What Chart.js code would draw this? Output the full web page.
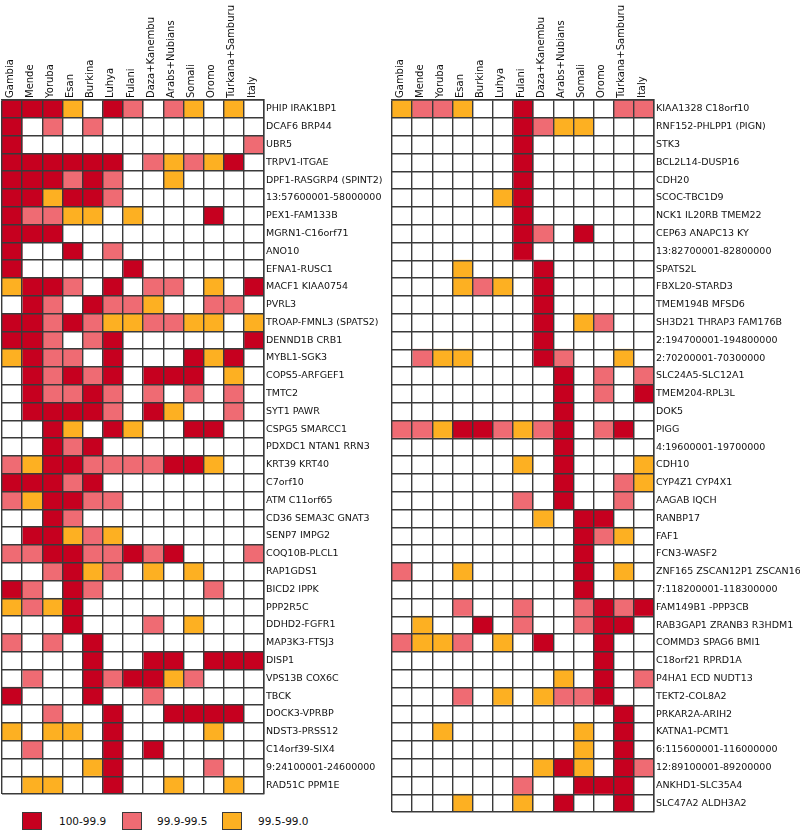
<!DOCTYPE html>
<html>
<head>
<meta charset="utf-8">
<script src="https://cdn.jsdelivr.net/npm/chart.js@4.4.0/dist/chart.umd.min.js"></script>
<style>
  body { margin:0; background:#fff; width:800px; height:832px; position:relative; overflow:hidden; font-family:"DejaVu Sans", sans-serif; }
  #c1 { position:absolute; left:0; top:0; }
  #c2 { position:absolute; left:390px; top:0; }
  .sw { position:absolute; top:812px; width:18px; height:16px; border:1px solid #3a3a3a; }
  .lt { position:absolute; top:814px; font-size:10.5px; color:#111; line-height:14px; white-space:nowrap; }
</style>
</head>
<body>
<canvas id="c1" width="390" height="796"></canvas>
<canvas id="c2" width="410" height="814"></canvas>
<div id="legend"></div>
<script>
// ---- data ----
const populations = ["Gambia","Mende","Yoruba","Esan","Burkina","Luhya","Fulani","Daza+Kanembu","Arabs+Nubians","Somali","Oromo","Turkana+Samburu","Italy"];

// level: 3 = 100-99.9, 2 = 99.9-99.5, 1 = 99.5-99.0, 0 = none
const leftGenes = ["PHIP IRAK1BP1","DCAF6 BRP44","UBR5","TRPV1-ITGAE","DPF1-RASGRP4 (SPINT2)","13:57600001-58000000","PEX1-FAM133B","MGRN1-C16orf71","ANO10","EFNA1-RUSC1","MACF1 KIAA0754","PVRL3","TROAP-FMNL3 (SPATS2)","DENND1B CRB1","MYBL1-SGK3","COPS5-ARFGEF1","TMTC2","SYT1 PAWR","CSPG5 SMARCC1","PDXDC1 NTAN1 RRN3","KRT39 KRT40","C7orf10","ATM C11orf65","CD36 SEMA3C GNAT3","SENP7 IMPG2","COQ10B-PLCL1","RAP1GDS1","BICD2 IPPK","PPP2R5C","DDHD2-FGFR1","MAP3K3-FTSJ3","DISP1","VPS13B COX6C","TBCK","DOCK3-VPRBP","NDST3-PRSS12","C14orf39-SIX4","9:24100001-24600000","RAD51C PPM1E"];
const leftLevels = [
  [3,3,3,1,0,3,2,0,2,1,0,1,0],
  [3,0,2,0,2,0,0,0,0,0,0,0,0],
  [3,0,0,0,0,0,0,0,0,0,0,0,2],
  [3,3,3,3,3,3,0,2,1,2,1,3,0],
  [3,3,3,2,3,2,0,0,1,0,0,0,0],
  [3,3,1,3,3,2,0,0,0,0,0,0,0],
  [3,2,2,1,1,0,1,0,0,0,3,0,0],
  [3,3,3,0,0,0,0,0,0,0,0,0,0],
  [3,0,0,3,0,2,0,0,0,0,0,0,0],
  [3,0,0,0,0,0,3,0,0,0,0,0,0],
  [1,3,3,2,0,3,0,2,2,0,1,0,3],
  [0,3,2,0,3,2,2,1,0,0,2,2,0],
  [3,3,2,3,2,1,1,2,2,1,1,0,1],
  [3,3,2,0,2,3,0,0,0,0,0,0,3],
  [1,3,2,2,0,3,0,0,0,3,1,3,0],
  [0,3,2,3,2,3,0,3,3,3,0,1,0],
  [0,3,2,2,3,2,0,2,0,2,0,2,0],
  [0,3,3,3,3,2,0,3,1,0,0,2,0],
  [0,0,3,1,0,3,1,0,0,3,3,0,0],
  [0,0,3,2,3,0,0,0,0,0,0,0,0],
  [2,1,3,3,2,2,2,2,3,3,1,0,0],
  [3,3,3,2,3,0,0,0,0,0,0,0,0],
  [2,1,3,3,2,2,0,0,0,0,0,0,0],
  [0,0,3,2,0,0,0,0,0,0,0,0,0],
  [0,3,3,1,2,1,0,0,0,0,0,0,0],
  [2,2,3,3,2,2,3,2,3,0,0,0,2],
  [0,0,2,3,1,2,0,1,0,1,0,0,0],
  [3,2,0,3,2,0,0,0,0,0,2,0,0],
  [1,2,1,3,0,0,0,0,0,0,0,0,0],
  [0,0,0,3,0,0,0,2,0,1,0,0,0],
  [2,0,2,0,3,0,0,0,0,0,0,0,0],
  [0,0,0,0,3,0,0,3,3,0,3,3,3],
  [0,2,0,0,3,2,3,3,1,2,0,0,0],
  [3,0,0,0,3,0,0,2,0,0,0,0,0],
  [0,0,2,0,0,3,0,0,3,3,3,3,0],
  [1,0,1,1,0,3,0,0,0,0,1,0,0],
  [0,2,0,0,0,3,0,3,0,0,0,0,0],
  [0,0,0,0,1,3,0,0,0,0,2,0,0],
  [0,1,1,0,0,3,0,0,1,0,0,1,0]
];

const rightGenes = ["KIAA1328 C18orf10","RNF152-PHLPP1 (PIGN)","STK3","BCL2L14-DUSP16","CDH20","SCOC-TBC1D9","NCK1 IL20RB TMEM22","CEP63 ANAPC13 KY","13:82700001-82800000","SPATS2L","FBXL20-STARD3","TMEM194B MFSD6","SH3D21 THRAP3 FAM176B","2:194700001-194800000","2:70200001-70300000","SLC24A5-SLC12A1","TMEM204-RPL3L","DOK5","PIGG","4:19600001-19700000","CDH10","CYP4Z1 CYP4X1","AAGAB IQCH","RANBP17","FAF1","FCN3-WASF2","ZNF165 ZSCAN12P1 ZSCAN16","7:118200001-118300000","FAM149B1 -PPP3CB","RAB3GAP1 ZRANB3 R3HDM1","COMMD3 SPAG6 BMI1","C18orf21 RPRD1A","P4HA1 ECD NUDT13","TEKT2-COL8A2","PRKAR2A-ARIH2","KATNA1-PCMT1","6:115600001-116000000","12:89100001-89200000","ANKHD1-SLC35A4","SLC47A2 ALDH3A2"];
const rightLevels = [
  [1,2,2,1,0,0,3,0,0,0,0,2,2],
  [0,0,0,0,0,0,3,2,1,1,0,0,0],
  [0,0,0,0,0,0,3,0,0,0,0,0,0],
  [0,0,0,0,0,0,3,0,0,0,0,0,0],
  [0,0,0,0,0,0,3,0,0,0,0,0,0],
  [0,0,0,0,0,1,3,0,0,0,0,0,0],
  [0,0,0,0,0,0,3,0,0,0,0,0,0],
  [0,0,0,0,0,0,3,2,0,3,0,0,0],
  [0,0,0,0,0,0,3,0,0,0,0,0,0],
  [0,0,0,1,0,0,0,3,0,0,0,0,0],
  [0,0,0,1,2,1,0,3,0,0,0,0,0],
  [0,0,0,0,0,0,0,3,0,0,0,0,0],
  [0,0,0,0,0,0,0,3,0,1,2,0,0],
  [0,0,0,0,0,0,0,3,0,0,0,0,0],
  [0,2,1,1,0,0,0,3,2,0,0,1,0],
  [0,0,0,0,0,0,0,0,3,0,2,0,2],
  [0,0,0,0,0,0,0,0,3,0,2,0,3],
  [0,0,0,0,0,0,0,0,3,0,0,0,0],
  [2,2,1,3,3,2,1,2,3,0,2,3,0],
  [0,0,0,0,0,0,0,0,3,0,0,0,0],
  [0,0,0,0,0,0,1,0,3,0,0,0,1],
  [0,0,0,0,0,0,0,0,3,0,0,2,1],
  [0,0,0,0,0,0,2,0,3,0,0,2,0],
  [0,0,0,0,0,0,0,1,0,3,3,0,0],
  [0,0,0,0,0,0,0,0,0,3,2,1,0],
  [0,0,0,0,0,0,0,0,0,3,0,0,0],
  [2,0,0,1,0,0,0,0,0,3,0,1,0],
  [0,0,0,0,0,0,0,0,0,3,0,0,0],
  [0,0,0,2,0,0,2,0,0,2,3,2,3],
  [0,1,0,0,3,0,2,0,0,2,3,3,0],
  [2,1,1,2,0,1,0,3,0,0,3,0,0],
  [0,0,0,0,0,0,0,0,0,0,3,0,0],
  [0,0,0,0,0,0,0,0,1,0,3,0,2],
  [0,0,0,2,0,1,0,1,2,2,3,0,0],
  [0,0,0,0,0,0,0,0,0,0,0,3,0],
  [0,0,1,0,0,0,0,0,0,1,0,3,0],
  [0,0,0,0,0,0,0,0,0,1,0,3,0],
  [0,0,0,0,0,0,0,1,3,1,0,3,2],
  [0,0,0,0,0,0,2,0,0,3,3,3,0],
  [0,0,0,1,0,0,1,0,3,0,0,3,0]
];

const legendLabels = ["100-99.9","99.9-99.5","99.5-99.0"];
const legendLevels = [3,2,1];
const levelColors = ["#ffffff","#fdb022","#ef6b73","#c6001f"];

// ---- drawing ----
Chart.defaults.font.family = "'DejaVu Sans', sans-serif";
Chart.defaults.color = "#111";

function makeHeatmap(id, genes, levels, topH, rightW, padLeft) {
  const datasets = populations.map((pop, c) => ({
    label: pop,
    data: genes.map(() => [c, c + 1]),
    backgroundColor: genes.map((g, r) => levelColors[levels[r][c]]),
    borderWidth: 0,
    barPercentage: 1,
    categoryPercentage: 1,
    grouped: false
  }));
  return new Chart(document.getElementById(id), {
    type: 'bar',
    data: { labels: genes, datasets },
    options: {
      indexAxis: 'y',
      responsive: false,
      animation: false,
      layout: { padding: { left: padLeft, top: 0, right: 0, bottom: 2 } },
      plugins: { legend: { display: false }, tooltip: { enabled: false } },
      scales: {
        x: { type: 'linear', min: 0, max: populations.length, display: false },
        xTop: {
          type: 'category', labels: populations, position: 'top', offset: true,
          grid: { offset: true, z: 1, color: '#3a3a3a', lineWidth: 1.4, drawTicks: false },
          border: { display: true, color: '#3a3a3a', width: 1.4, z: 1 },
          ticks: { autoSkip: false, minRotation: 90, maxRotation: 90, font: { size: 10 }, padding: 2, labelOffset: 10, color: '#111' },
          afterFit(s) { s.height = topH; s.paddingLeft = 0; s.paddingRight = 0; }
        },
        y: {
          type: 'category', position: 'right', offset: true,
          grid: { offset: true, z: 1, color: '#3a3a3a', lineWidth: 1.4, drawTicks: false },
          border: { display: true, color: '#3a3a3a', width: 1.4, z: 1 },
          ticks: { autoSkip: false, font: { size: 9.5 }, padding: 2, color: '#111' },
          afterFit(s) { s.width = rightW; s.paddingTop = 0; s.paddingBottom = 0; }
        }
      }
    }
  });
}

makeHeatmap('c1', leftGenes, leftLevels, 100, 126, 2);
makeHeatmap('c2', rightGenes, rightLevels, 100, 146, 2);

// legend
const leg = document.getElementById('legend');
const swX = [22, 122, 222];
const txX = [59, 157, 258];
legendLabels.forEach((lab, i) => {
  const s = document.createElement('div');
  s.className = 'sw';
  s.style.left = swX[i] + 'px';
  s.style.background = levelColors[legendLevels[i]];
  leg.appendChild(s);
  const t = document.createElement('div');
  t.className = 'lt';
  t.style.left = txX[i] + 'px';
  t.textContent = lab;
  leg.appendChild(t);
});
</script>
</body>
</html>
